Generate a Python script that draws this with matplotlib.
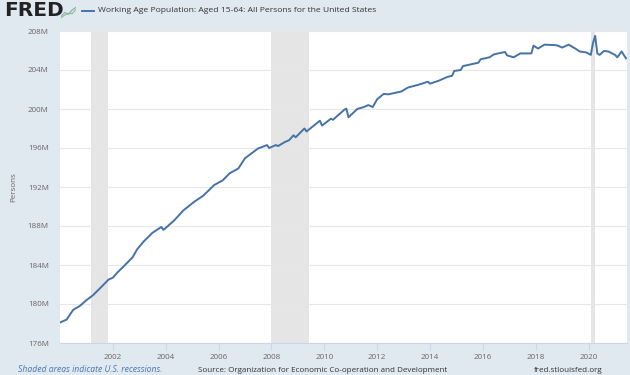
import pandas as pd
import matplotlib.pyplot as plt
import matplotlib.dates as mdates
from matplotlib.ticker import FuncFormatter, MultipleLocator

# working age population, millions
dates = ['2000-01', '2000-04', '2000-07', '2000-10', '2001-01', '2001-04', '2001-08', '2001-11',
         '2002-01', '2002-03', '2002-07', '2002-10', '2002-12', '2003-03', '2003-07', '2003-11',
         '2003-12', '2004-05', '2004-09', '2005-02', '2005-06', '2005-11', '2006-03', '2006-06',
         '2006-10', '2007-01', '2007-04', '2007-07', '2007-11', '2007-12', '2008-03', '2008-04',
         '2008-07', '2008-09', '2008-11', '2008-12', '2009-04', '2009-05', '2009-11', '2009-12',
         '2010-04', '2010-05', '2010-10', '2010-11', '2010-12', '2011-04', '2011-07', '2011-09',
         '2011-11', '2012-01', '2012-04', '2012-06', '2012-12', '2013-03', '2013-08', '2013-12',
         '2014-01', '2014-05', '2014-09', '2014-11', '2014-12', '2015-03', '2015-04', '2015-11',
         '2015-12', '2016-04', '2016-06', '2016-11', '2016-12', '2017-03', '2017-06', '2017-11',
         '2017-12', '2018-02', '2018-05', '2018-10', '2018-11', '2019-01', '2019-04', '2019-07',
         '2019-09', '2019-12', '2020-02', '2020-03', '2020-04', '2020-05', '2020-06', '2020-08',
         '2020-10', '2021-01', '2021-02', '2021-04', '2021-06']
values = [178.1, 178.4, 179.4, 179.8, 180.4, 180.9, 181.8, 182.5,
          182.7, 183.2, 184.1, 184.8, 185.6, 186.4, 187.3, 187.9,
          187.6, 188.6, 189.6, 190.5, 191.1, 192.2, 192.7, 193.4,
          193.9, 194.95, 195.45, 195.95, 196.3, 196.0, 196.3, 196.2,
          196.6, 196.8, 197.3, 197.1, 198.0, 197.7, 198.8, 198.3,
          199.0, 198.9, 199.9, 200.05, 199.15, 200.0, 200.2, 200.4,
          200.2, 201.0, 201.55, 201.5, 201.8, 202.2, 202.5, 202.8,
          202.6, 202.9, 203.3, 203.4, 203.9, 204.0, 204.4, 204.75,
          205.1, 205.3, 205.6, 205.85, 205.5, 205.3, 205.7, 205.7,
          206.5, 206.2, 206.6, 206.55, 206.5, 206.3, 206.6, 206.2,
          205.9, 205.8, 205.55, 206.75, 207.5, 205.7, 205.55, 205.95,
          205.9, 205.55, 205.3, 205.9, 205.2]

rec_start = ['2001-03-01', '2008-01-01', '2020-02-01']
rec_end = ['2001-11-01', '2009-06-01', '2020-04-01']
tick_years = list(range(2002, 2022, 2))

plt.rcParams['font.family'] = ['Open Sans', 'DejaVu Sans']

bg = '#e1e9f0'
fig = plt.figure(figsize=(6.3, 3.75), dpi=100, facecolor=bg)
ax = fig.add_axes([60 / 630, 32 / 375, 567 / 630, 312 / 375])
ax.set_facecolor('white')

x = pd.to_datetime(dates)
for s, e in zip(rec_start, rec_end):
    ax.axvspan(pd.Timestamp(s), pd.Timestamp(e), color='#e5e5e5', lw=0, zorder=1)

ax.plot(x, values, color='#4572a7', lw=1.4, zorder=3)

ax.set_xlim(pd.Timestamp('2000-01-01'), pd.Timestamp('2021-06-15'))
ax.set_ylim(176, 208)
ax.yaxis.set_major_locator(MultipleLocator(4))
ax.yaxis.set_major_formatter(FuncFormatter(lambda v, p: f'{v:.0f}M'))
ax.set_xticks([pd.Timestamp(f'{y}-01-01') for y in tick_years])
ax.xaxis.set_major_formatter(mdates.DateFormatter('%Y'))
ax.grid(axis='y', color='#e6e6e6', lw=0.8, zorder=0)

for sp in ['top', 'right', 'left']:
    ax.spines[sp].set_visible(False)
ax.spines['bottom'].set_color('#ccd6eb')
ax.tick_params(axis='y', length=0, pad=8, labelsize=5.8, labelcolor='#666666')
ax.tick_params(axis='x', length=5, color='#ccd6eb', pad=3, labelsize=5.8, labelcolor='#666666')
fig.text(14 / 630, 1 - 187 / 375, 'Persons', rotation=90, fontsize=5.8, color='#666666',
         va='center', ha='center')

# header
fig.text(4 / 630, 1 - 11 / 375, 'FRED', fontsize=14.5, fontweight='bold', color='#222222',
         va='center', ha='left', family='DejaVu Sans')
icon = fig.add_axes([61 / 630, 1 - 19 / 375, 15 / 630, 13 / 375])
icon.set_facecolor('#e1e9f0')
icon.plot([0, 1, 2, 3, 4], [0.2, 0.5, 0.35, 0.7, 0.9], color='#7fa8d0', lw=0.8)
icon.plot([0, 1, 2, 3, 4], [0.1, 0.3, 0.45, 0.4, 0.75], color='#8cc176', lw=0.8)
icon.set_xlim(0, 4)
icon.set_ylim(0, 1)
icon.set_xticks([])
icon.set_yticks([])
for sp in icon.spines.values():
    sp.set_visible(False)

fig.lines.append(plt.Line2D([82 / 630, 94 / 630], [1 - 11 / 375, 1 - 11 / 375],
                            transform=fig.transFigure, color='#4572a7', lw=1.4))
fig.text(98 / 630, 1 - 11 / 375,
         'Working Age Population: Aged 15-64: All Persons for the United States',
         fontsize=6.1, color='#333333', va='center', ha='left')

# footer
fig.text(18 / 630, 1 - 370 / 375, 'Shaded areas indicate U.S. recessions.', fontsize=6.2,
         style='italic', color='#4a78b3', va='center', ha='left')
fig.text(198 / 630, 1 - 370 / 375,
         'Source: Organization for Economic Co-operation and Development',
         fontsize=5.8, color='#333333', va='center', ha='left')
fig.text(603 / 630, 1 - 370 / 375, 'fred.stlouisfed.org', fontsize=5.8, color='#333333',
         va='center', ha='right')

fig.savefig('out.png', dpi=100, facecolor=bg)
